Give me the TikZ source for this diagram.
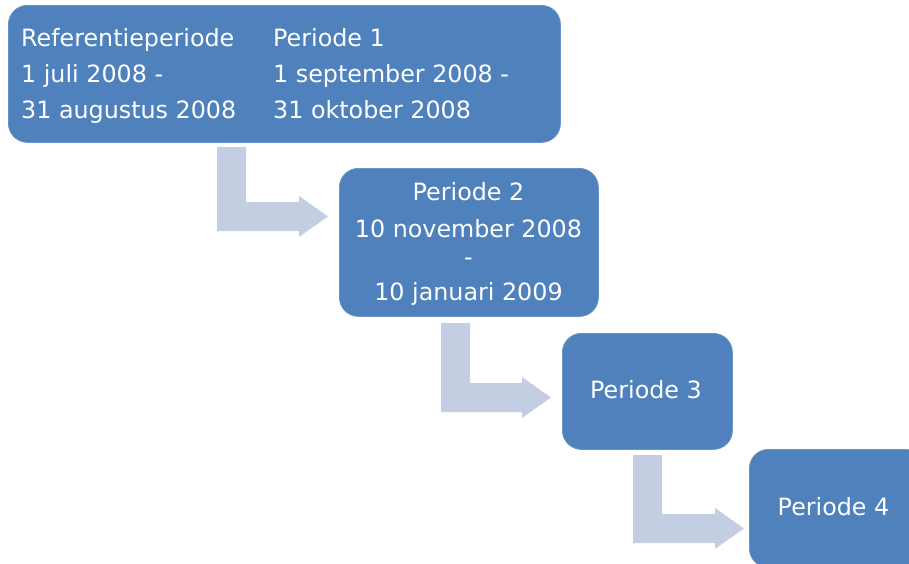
\documentclass[tikz,border=0pt]{standalone}
\usepackage{fontspec}
\setmainfont{DejaVu Sans}
\definecolor{boxblue}{HTML}{4F81BD}
\definecolor{arrowblue}{HTML}{C4CEE3}
\newcommand{\bentarr}[5]{% #1 left x, #2 top y, #3 bottom y of horizontal bar, #4 head base x, #5 tip x
  \fill[arrowblue] (#1,#2) -- ({#1+29},#2) -- ({#1+29},{#3-29}) -- (#4,{#3-29})
    -- (#4,{#3-14.5-20.5}) -- (#5,{#3-14.5}) -- (#4,{#3-14.5+20.5})
    -- (#4,#3) -- (#1,#3) -- cycle;}
\begin{document}
\begin{tikzpicture}[x=1pt,y=-1pt,
  box/.style={fill=boxblue, draw=boxblue!85!white, line width=0.8pt, rounded corners=19pt, anchor=north west, inner sep=0pt},
  txt/.style={text=white, font=\fontsize{23.8}{28}\selectfont, inner sep=0pt}]
\useasboundingbox (0,0) rectangle (909,563);
\clip (0,0) rectangle (909,563);
% boxes
\node[box, minimum width=552pt, minimum height=137pt] (p1) at (8,5) {};
\node[box, minimum width=259pt, minimum height=148pt] (p2) at (339,168) {};
\node[box, minimum width=170pt, minimum height=116pt] (p3) at (562,333) {};
\node[box, minimum width=175pt, minimum height=118pt] (p4) at (749,449) {};
% arrows
\bentarr{217}{147}{231}{299}{328}
\bentarr{441}{323}{412}{522}{551}
\bentarr{633}{455}{543}{715}{744}
% texts box 1
\node[txt, anchor=base west] (r1) at (21,46.5) {Referentieperiode};
\node[txt, anchor=base west] (r2) at (21,82.5) {1 juli 2008 -};
\node[txt, anchor=base west] (r3) at (21,118.5) {31 augustus 2008};
\node[txt, anchor=base west] (q1) at (273,46.5) {Periode 1};
\node[txt, anchor=base west] (q2) at (273,82.5) {1 september 2008 -};
\node[txt, anchor=base west] (q3) at (273,118.5) {31 oktober 2008};
% texts box 2
\node[txt, anchor=base] (s1) at (468.5,200.5) {Periode 2};
\node[txt, anchor=base] (s2) at (468.5,237) {10 november 2008};
\node[txt, anchor=base] (s3) at (468.5,265) {-};
\node[txt, anchor=base] (s4) at (468.5,300.5) {10 januari 2009};
% texts box 3 and 4
\node[txt, anchor=base] (t3) at (646,398.5) {Periode 3};
\node[txt, anchor=base] (t4) at (833.5,515.5) {Periode 4};
\end{tikzpicture}
\end{document}
